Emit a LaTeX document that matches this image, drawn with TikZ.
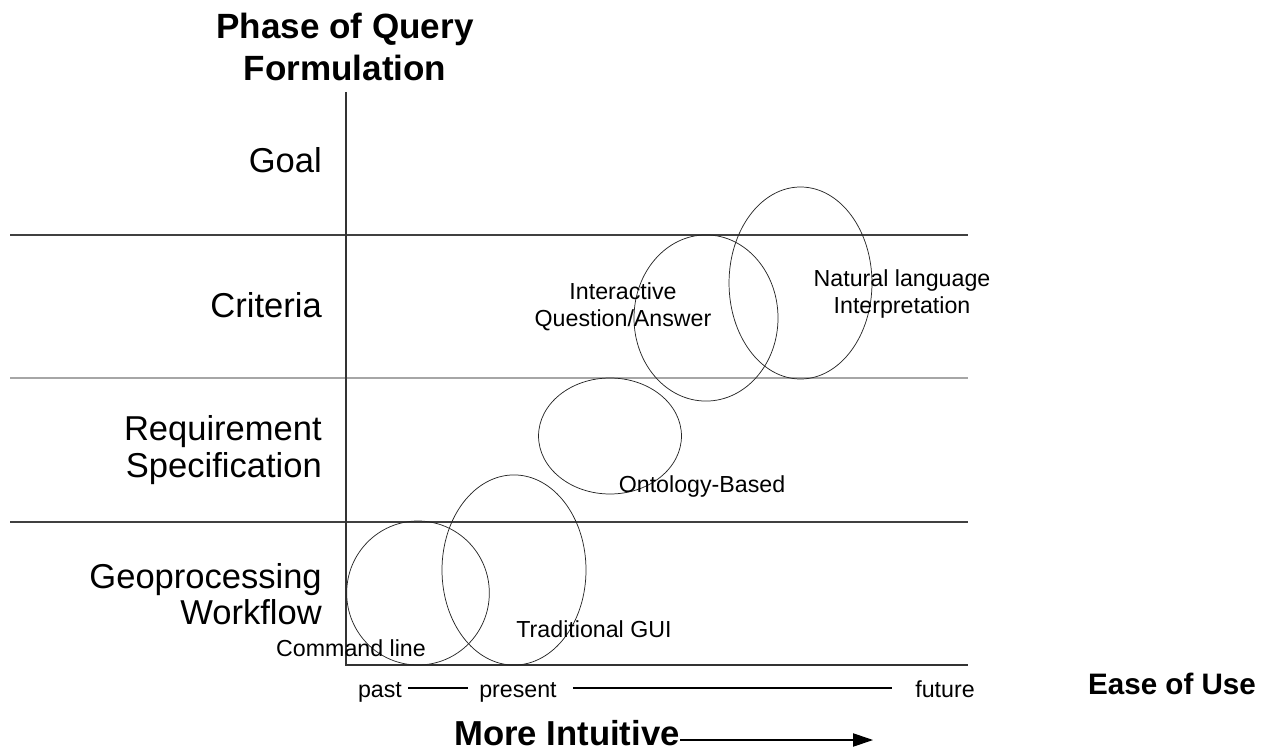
\documentclass[tikz,border=0pt]{standalone}
\usepackage{fontspec}
\setmainfont{Liberation Sans}
\usetikzlibrary{arrows.meta}
\tikzset{
  grid/.style={line width=0.8pt, draw=black!75},
  gridlight/.style={line width=0.8pt, draw=black!35},
  axis/.style={line width=0.8pt, draw=black!80},
  blob/.style={line width=0.55pt, draw=black!85},
  phase/.style={inner sep=0pt, anchor=east, align=right, font=\fontsize{25.9pt}{27.5pt}\selectfont},
  lbl/.style={inner sep=0pt, align=center, font=\fontsize{17.4pt}{20.6pt}\selectfont},
  tick/.style={inner sep=0pt, anchor=base, font=\fontsize{17.4pt}{20.6pt}\selectfont},
  title/.style={inner sep=0pt, align=center, font=\fontsize{26.3pt}{30.8pt}\selectfont\bfseries},
  timeline/.style={line width=1.6pt, draw=black},
}
\begin{document}
\begin{tikzpicture}[x=0.75pt,y=-0.75pt]
\useasboundingbox (0,0) rectangle (1270,752);
% grid lines
\draw[grid] (10,235) -- (968,235);
\draw[gridlight] (10,378) -- (968,378);
\draw[grid] (10,522) -- (968,522);
% axes
\coordinate (ytop) at (346,92);
\coordinate (origin) at (346,665);
\coordinate (xend) at (968,665);
\draw[axis] (ytop) -- (origin) -- (xend);
% ellipses
\draw[blob] (418,593) ellipse [x radius=53.5pt, y radius=54pt];
\draw[blob] (514,570) ellipse [x radius=54pt, y radius=71.3pt];
\draw[blob] (610,436) ellipse [x radius=53.6pt, y radius=43.5pt];
\draw[blob] (706,318) ellipse [x radius=54pt, y radius=62.3pt];
\draw[blob] (800.5,283) ellipse [x radius=53.6pt, y radius=72pt];
% title and phases
\node[title] (ttl) at (345,47) {Phase of Query\\Formulation};
\node[phase] (goal) at (322,160) {Goal};
\node[phase] (crit) at (322,305) {Criteria};
\node[phase] (req) at (322,450) {Requirement\\Specification};
\node[phase] (geo) at (322,594) {Geoprocessing\\Workflow};
% ellipse labels
\node[lbl] (iqa) at (623,307) {Interactive\\Question/Answer};
\node[lbl] (nli) at (902,294) {Natural language\\Interpretation};
\node[lbl] (onto) at (702,486) {Ontology-Based};
\node[lbl] (gui) at (594,629) {Traditional GUI};
\node[lbl] (cmd) at (351,648) {Command line};
% timeline
\node[tick] (past) at (380,697) {past};
\node[tick] (present) at (518,697) {present};
\node[tick] (future) at (945,697) {future};
\draw[timeline] ([xshift=4.5pt]past.east |- 0,688) -- ([xshift=-8pt]present.west |- 0,688);
\draw[timeline] ([xshift=12pt]present.east |- 0,688) -- ([xshift=-17pt]future.west |- 0,688);
\node[inner sep=0pt, font=\fontsize{22.2pt}{26pt}\selectfont\bfseries] (ease) at (1172,684) {Ease of Use};
\node[inner sep=0pt, font=\fontsize{26pt}{30pt}\selectfont\bfseries] (intu) at (567,733) {More Intuitive};
\coordinate (arrowtip) at (873,740);
\draw[line width=0.8pt, -{Triangle[length=15pt,width=10pt]}] (intu.east |- 0,740) -- (arrowtip);
\end{tikzpicture}
\end{document}
